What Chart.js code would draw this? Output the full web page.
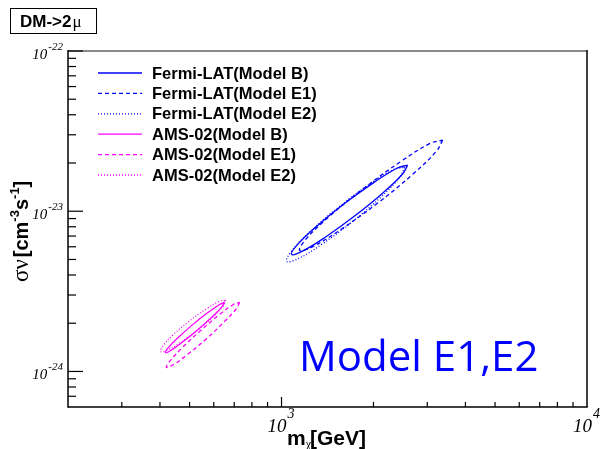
<!DOCTYPE html>
<html><head><meta charset="utf-8">
<script src="https://cdn.jsdelivr.net/npm/chart.js@4/dist/chart.umd.min.js"></script>
<style>html,body{margin:0;padding:0;background:#fff;}canvas{display:block;}</style>
</head><body>
<canvas id="c" width="601" height="449"></canvas>
<script>
// ---- data (mass in GeV, sigma v in cm^3 s^-1), contour points ----
const seriesLabels = ['Fermi-LAT(Model B)','Fermi-LAT(Model E1)','Fermi-LAT(Model E2)','AMS-02(Model B)','AMS-02(Model E1)','AMS-02(Model E2)'];
const fermiB  = [[2588,1.94e-23],[2486,1.70e-23],[2147,1.30e-23],[1734,9.33e-24],[1387,6.86e-24],[1166,5.61e-24],[1079,5.38e-24],[1124,6.14e-24],[1301,8.03e-24],[1611,1.12e-23],[2015,1.52e-23],[2396,1.86e-23]];
const fermiE1 = [[3370,2.78e-23],[3209,2.36e-23],[2679,1.69e-23],[2059,1.12e-23],[1562,7.68e-24],[1261,5.99e-24],[1146,5.70e-24],[1204,6.72e-24],[1442,9.36e-24],[1878,1.41e-23],[2473,2.06e-23],[3064,2.65e-23]];
const fermiE2 = [[2530,1.88e-23],[2440,1.63e-23],[2110,1.22e-23],[1700,8.56e-24],[1352,6.20e-24],[1130,5.04e-24],[1040,4.87e-24],[1078,5.64e-24],[1247,7.53e-24],[1547,1.07e-23],[1945,1.48e-23],[2328,1.82e-23]];
const amsB    = [[651,2.70e-24],[637,2.52e-24],[591,2.18e-24],[530,1.81e-24],[473,1.52e-24],[434,1.35e-24],[417,1.31e-24],[426,1.41e-24],[459,1.63e-24],[512,1.96e-24],[574,2.33e-24],[627,2.62e-24]];
const amsE1   = [[729,2.70e-24],[712,2.47e-24],[649,2.04e-24],[568,1.60e-24],[493,1.28e-24],[442,1.10e-24],[420,1.06e-24],[431,1.16e-24],[472,1.40e-24],[540,1.78e-24],[622,2.24e-24],[694,2.61e-24]];
const amsE2   = [[656,2.78e-24],[644,2.56e-24],[595,2.18e-24],[528,1.80e-24],[465,1.51e-24],[421,1.35e-24],[402,1.33e-24],[410,1.45e-24],[443,1.70e-24],[499,2.06e-24],[566,2.45e-24],[626,2.74e-24]];
const xMajorTicks = [1000, 10000];
const xTickExp = ['3','4'];
const yMajorTicks = [1e-24, 1e-23, 1e-22];
const yTickExp = ['-24','-23','-22'];
const xRange = [200, 10000];
const yRange = [6e-25, 1e-22];
const titleText = 'DM->2';
const annotationText = 'Model E1,E2';

// ---- styles ----
const BLUE = '#0000ff', MAG = '#ff00ff';
const styles = [
  {c:BLUE, d:[]}, {c:BLUE, d:[4,3]}, {c:BLUE, d:[1,2]},
  {c:MAG, d:[]},  {c:MAG, d:[4,3]},  {c:MAG, d:[1,2]}
];
const allSeries = [fermiB, fermiE1, fermiE2, amsB, amsE1, amsE2];
const datasets = allSeries.map((pts, i) => ({
  label: seriesLabels[i],
  data: pts.concat([pts[0]]).map(p => ({x:p[0], y:p[1]})),
  borderColor: styles[i].c,
  borderDash: styles[i].d,
  borderWidth: 1.3,
  pointRadius: 0,
  showLine: true,
  fill: false,
  tension: 0.4
}));

function seg(ctx, x1, y1, x2, y2){ ctx.beginPath(); ctx.moveTo(x1,y1); ctx.lineTo(x2,y2); ctx.stroke(); }

const overlay = {
  id: 'overlay',
  afterDraw(chart){
    const ctx = chart.ctx, a = chart.chartArea, xs = chart.scales.x, ys = chart.scales.y;
    ctx.save();
    // frame
    ctx.setLineDash([]);
    ctx.strokeStyle = '#8a8a8a'; ctx.lineWidth = 2;
    seg(ctx, a.left, a.top, a.right, a.top);
    ctx.strokeStyle = '#000'; ctx.lineWidth = 1.5;
    seg(ctx, a.right, a.top - 1, a.right, a.bottom);
    seg(ctx, a.left, a.top - 1, a.left, a.bottom + 0.75);
    seg(ctx, a.left, a.bottom, a.right + 0.75, a.bottom);
    // y ticks
    ctx.lineWidth = 1.2;
    for (let n = -25; n <= -23; n++) {
      for (let k = 1; k <= 9; k++) {
        const v = k * Math.pow(10, n);
        if (v < yRange[0] * 1.001 || v > yRange[1] * 1.001) continue;
        const py = ys.getPixelForValue(v);
        seg(ctx, a.left, py, a.left + (k === 1 ? 15 : 8), py);
      }
    }
    seg(ctx, a.left, ys.getPixelForValue(1e-22), a.left + 15, ys.getPixelForValue(1e-22));
    // x ticks
    for (let n = 2; n <= 3; n++) {
      for (let k = 1; k <= 9; k++) {
        const v = k * Math.pow(10, n);
        if (v <= xRange[0] * 1.001 || v >= xRange[1] * 0.999) continue;
        const px = xs.getPixelForValue(v);
        seg(ctx, px, a.bottom, px, a.bottom - (k === 1 ? 10 : 5));
      }
    }
    // y tick labels
    ctx.fillStyle = '#000';
    ctx.textBaseline = 'alphabetic';
    yMajorTicks.forEach((v, i) => {
      const py = ys.getPixelForValue(v);
      ctx.font = 'italic 11px "Liberation Serif"';
      const sw = ctx.measureText(yTickExp[i]).width;
      ctx.textAlign = 'right';
      ctx.fillText(yTickExp[i], 63, py - 1);
      ctx.font = 'italic 15px "Liberation Serif"';
      ctx.fillText('10', 63 - sw - 1, py + 7.5);
    });
    // x tick labels
    xMajorTicks.forEach((v, i) => {
      const px = xs.getPixelForValue(v);
      ctx.textAlign = 'right';
      ctx.font = 'italic 19px "Liberation Serif"';
      ctx.fillText('10', px + 5, 432);
      ctx.textAlign = 'left';
      ctx.font = 'italic 14px "Liberation Serif"';
      ctx.fillText(xTickExp[i], px + 6, 418);
    });
    // x title
    ctx.textAlign = 'left';
    let x = 287;
    ctx.font = 'bold 21px "Liberation Sans"';
    ctx.fillText('m', x, 445); x += ctx.measureText('m').width;
    ctx.font = '12px "Liberation Serif"';
    ctx.fillText('\u03c7', x, 448); x += ctx.measureText('\u03c7').width - 1;
    ctx.font = 'bold 21px "Liberation Sans"';
    ctx.fillText('[GeV]', x, 445);
    // y title (rotated)
    ctx.save();
    ctx.translate(28, 282);
    ctx.rotate(-Math.PI / 2);
    let t = 0;
    const parts = [
      ['\u03c3\u03bd', '23px "Liberation Serif"', 0, 2],
      ['[cm', 'bold 20px "Liberation Sans"', 0, 0],
      ['-3', 'bold 13px "Liberation Sans"', -9, 0],
      ['s', 'bold 20px "Liberation Sans"', 0, 0],
      ['-1', 'bold 13px "Liberation Sans"', -9, 0],
      [']', 'bold 20px "Liberation Sans"', 0, 0]
    ];
    parts.forEach(p => {
      ctx.font = p[1];
      ctx.fillText(p[0], t, p[2]);
      t += ctx.measureText(p[0]).width + p[3];
    });
    ctx.restore();
    // title box
    ctx.lineWidth = 1;
    ctx.strokeStyle = '#000';
    ctx.strokeRect(10.5, 8.5, 86, 25);
    ctx.font = 'bold 17px "Liberation Sans"';
    ctx.fillText(titleText, 20, 27);
    const tw = ctx.measureText(titleText).width;
    ctx.font = '17px "Liberation Serif"';
    ctx.fillText('\u03bc', 20 + tw + 1, 27);
    // legend
    ctx.textBaseline = 'middle';
    ctx.font = 'bold 16.5px "Liberation Sans"';
    seriesLabels.forEach((lab, i) => {
      const y = 73 + i * 20.4;
      ctx.strokeStyle = styles[i].c;
      ctx.lineWidth = 1.3;
      ctx.setLineDash(styles[i].d);
      seg(ctx, 98, y, 142, y);
      ctx.setLineDash([]);
      ctx.fillStyle = '#000';
      ctx.fillText(lab, 152, y + 1);
    });
    // annotation
    ctx.textBaseline = 'alphabetic';
    ctx.fillStyle = BLUE;
    ctx.font = '42px "Open Sans"';
    ctx.fillText(annotationText, 299, 371);
    ctx.restore();
  }
};

new Chart(document.getElementById('c').getContext('2d'), {
  type: 'scatter',
  data: { datasets },
  options: {
    responsive: false,
    animation: false,
    layout: { padding: { left: 68, top: 51, right: 14, bottom: 42 } },
    scales: {
      x: { type: 'logarithmic', min: xRange[0], max: xRange[1],
           ticks: { display: false }, grid: { display: false }, border: { display: false },
           afterFit(s) { s.height = 0; } },
      y: { type: 'logarithmic', min: yRange[0], max: yRange[1],
           ticks: { display: false }, grid: { display: false }, border: { display: false },
           afterFit(s) { s.width = 0; } }
    },
    plugins: { legend: { display: false }, tooltip: { enabled: false } }
  },
  plugins: [overlay]
});
</script>
</body></html>
